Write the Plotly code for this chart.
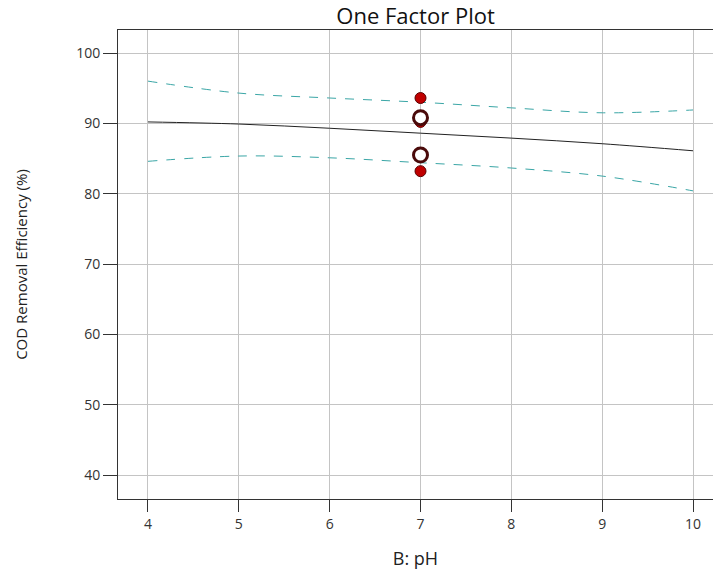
import plotly.graph_objects as go

# Data
ph_grid = [4, 5, 6, 7, 8, 9, 10]
fit = [90.2, 89.9, 89.3, 88.6, 87.9, 87.1, 86.1]
upper_ci = [96.0, 94.3, 93.6, 93.0, 92.2, 91.5, 91.9]
lower_ci = [84.6, 85.35, 85.1, 84.4, 83.65, 82.5, 80.4]

obs_x = [7, 7, 7]
obs_y = [93.6, 90.2, 83.2]
center_x = [7, 7]
center_y = [90.8, 85.5]

fig = go.Figure()
fig.add_trace(go.Scatter(x=ph_grid, y=upper_ci, mode="lines", line=dict(color="#3aa6a6", width=1, dash="dash", shape="spline"), showlegend=False))
fig.add_trace(go.Scatter(x=ph_grid, y=lower_ci, mode="lines", line=dict(color="#3aa6a6", width=1, dash="dash", shape="spline"), showlegend=False))
fig.add_trace(go.Scatter(x=ph_grid, y=fit, mode="lines", line=dict(color="#222222", width=1, shape="spline"), showlegend=False))
fig.add_trace(go.Scatter(x=obs_x, y=obs_y, mode="markers", marker=dict(size=11, color="#c00000", line=dict(color="#5a0000", width=1)), showlegend=False))
fig.add_trace(go.Scatter(x=center_x, y=center_y, mode="markers", marker=dict(size=14, color="white", line=dict(color="#4a0a0a", width=3)), showlegend=False))

fig.update_layout(
    width=714, height=573,
    margin=dict(l=118, r=1, t=30, b=74),
    paper_bgcolor="white", plot_bgcolor="white",
    font=dict(family="Open Sans", color="#222222"),
    title=dict(text="One Factor Plot", x=0.582, xanchor="center", y=0.971, yanchor="middle", font=dict(size=22, color="#111111")),
    xaxis=dict(range=[3.67, 10.22], tickvals=[4, 5, 6, 7, 8, 9, 10], showgrid=True, gridcolor="#c4c4c4", gridwidth=1,
               showline=True, linecolor="#333333", linewidth=1, mirror=True, ticks="outside", ticklen=12, tickcolor="#333333",
               tickfont=dict(size=14, color="#333333"), zeroline=False,
               title=dict(text="B: pH", font=dict(size=18, color="#222222"), standoff=20)),
    yaxis=dict(range=[36.59, 103.27], tickvals=[40, 50, 60, 70, 80, 90, 100], showgrid=True, gridcolor="#c4c4c4", gridwidth=1,
               showline=True, linecolor="#333333", linewidth=1, ticks="outside", ticklen=14, tickcolor="#333333",
               tickfont=dict(size=14, color="#333333"), zeroline=False,
               title=dict(text="COD Removal Efficiency (%)", font=dict(size=15, color="#222222"), standoff=44)),
)

fig.write_html("out.html")
